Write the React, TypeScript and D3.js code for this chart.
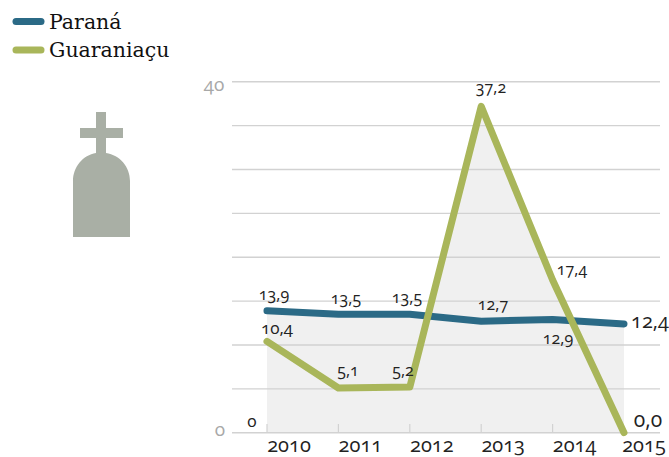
import React from 'react';
import * as d3 from 'd3';

const years = [2010, 2011, 2012, 2013, 2014, 2015];
const parana = [13.9, 13.5, 13.5, 12.7, 12.9, 12.4];
const guaraniacu = [10.4, 5.1, 5.2, 37.2, 17.4, 0.0];
const gridValues = [0, 5, 10, 15, 20, 25, 30, 35, 40];
const paranaLabels = ['13,9', '13,5', '13,5', '12,7', '12,9', '12,4'];
const guaraLabels = ['10,4', '5,1', '5,2', '37,2', '17,4', '0,0'];
const paranaOffset: [number, number, number][] = [[274, 300, 16], [346, 304, 16], [407, 303, 16], [493, 310, 16], [558, 344, 16], [650, 328, 20]];
const guaraOffset: [number, number, number][] = [[277, 334, 17], [348, 376, 16], [403, 376, 16], [491, 93, 16], [572, 275, 16], [648, 427, 21]];

const serif = "'DejaVu Serif', serif";
const numFont = "'Open Sans', sans-serif";
const onum = { fontFeatureSettings: "'onum'" };

export default function App() {
  const x = d3.scalePoint<number>().domain(years).range([267, 624]);
  const y = d3.scaleLinear().domain([0, 40]).range([432.7, 81.7]);
  const line = d3.line<number>().x((_, i) => x(years[i])!).y(d => y(d));
  const area = d3.area<number>().x((_, i) => x(years[i])!).y0(y(0)).y1(d => y(d));
  const blue = '#2b6a86';
  const green = '#a9b65a';
  const grid = '#d2d2d2';
  return (
    <svg width={669} height={457} style={{ position: 'absolute', left: 0, top: 0, background: '#fff' }}>
      <path d={area(parana)!} fill="#f0f0f0" />
      <path d={area(guaraniacu)!} fill="#f0f0f0" />
      {gridValues.map(v => (
        <line key={v} x1={232} x2={660} y1={y(v)} y2={y(v)} stroke={grid} strokeWidth={1.4} />
      ))}
      {years.slice(0, 5).map(t => (
        <line key={t} x1={x(t)!} x2={x(t)!} y1={424} y2={433} stroke={grid} strokeWidth={1.2} />
      ))}
      <text x={214} y={91} fontFamily={numFont} fontSize={19} fill="#a8a8a8" textAnchor="middle" style={onum}>40</text>
      <text x={220} y={436} fontFamily={numFont} fontSize={19} fill="#a8a8a8" textAnchor="middle" style={onum}>0</text>
      <text x={252} y={427} fontFamily={numFont} fontSize={17} fill="#222" textAnchor="middle" style={onum}>0</text>
      {years.map((t, i) => (
        <text key={t} x={x(t)! + (i === 5 ? 20 : 22)} y={452} fontFamily={numFont} fontSize={20} fill="#222" textAnchor="middle" style={onum}>{t}</text>
      ))}
      <path d={line(parana)!} fill="none" stroke={blue} strokeWidth={7} strokeLinecap="round" strokeLinejoin="round" />
      <path d={line(guaraniacu)!} fill="none" stroke={green} strokeWidth={7} strokeLinecap="round" strokeLinejoin="round" />
      {paranaLabels.map((s, i) => (
        <text key={i} x={paranaOffset[i][0]} y={paranaOffset[i][1]} fontFamily={numFont} fontSize={paranaOffset[i][2]} fill="#222" textAnchor="middle" style={onum}>{s}</text>
      ))}
      {guaraLabels.map((s, i) => (
        <text key={i} x={guaraOffset[i][0]} y={guaraOffset[i][1]} fontFamily={numFont} fontSize={guaraOffset[i][2]} fill="#222" textAnchor="middle" style={onum}>{s}</text>
      ))}
      <line x1={16} x2={41} y1={21.5} y2={21.5} stroke={blue} strokeWidth={7} strokeLinecap="round" />
      <line x1={16} x2={41} y1={50} y2={50} stroke={green} strokeWidth={7} strokeLinecap="round" />
      <text x={49} y={29} fontFamily={serif} fontSize={20.5} fill="#111">Paraná</text>
      <text x={49} y={57} fontFamily={serif} fontSize={20.5} fill="#111">Guaraniaçu</text>
      <path d="M96 112H106V128H123V138H106V153C120 155 130 167 130 181V237H73V181C73 167 83 155 96 153V138H80V128H96Z" fill="#a9afa5" />
    </svg>
  );
}
